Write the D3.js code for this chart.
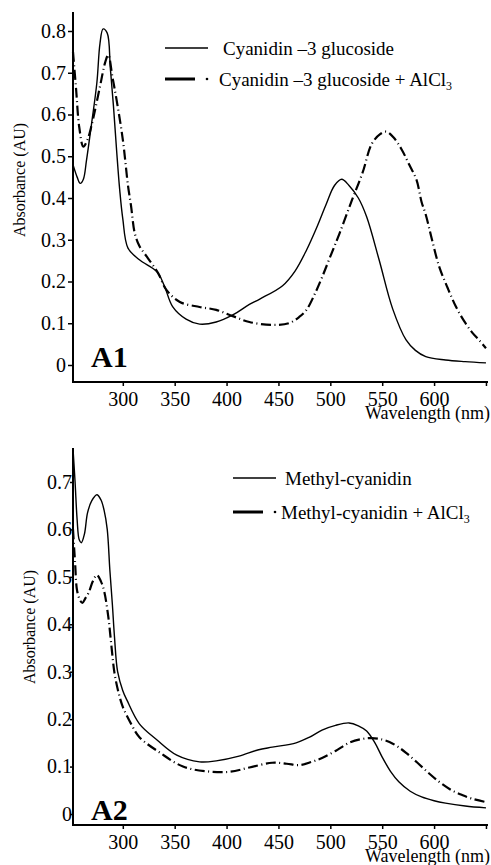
<!DOCTYPE html>
<html>
<head>
<meta charset="utf-8">
<script src="https://cdn.jsdelivr.net/npm/d3@7"></script>
<style>
  body { margin: 0; background: #fff; }
  text { font-family: 'Liberation Serif', 'Times New Roman', serif; fill: #000; }
</style>
</head>
<body>
<div id="chart"></div>
<script>
// wavelength (nm) / absorbance (AU)
let a1SolidWl = [252, 256, 259, 262, 265, 270, 275, 278, 281, 285, 288, 291, 294, 297, 300, 305, 316, 333, 340, 348, 361, 374, 390, 406, 422, 432, 454, 466, 477, 487, 496, 504, 511, 518, 527, 535, 547, 560, 573, 582, 592, 611, 630, 650]
let a1SolidAbs = [0.48, 0.45, 0.435, 0.445, 0.49, 0.58, 0.676, 0.77, 0.805, 0.795, 0.71, 0.62, 0.515, 0.42, 0.35, 0.28, 0.252, 0.223, 0.19, 0.14, 0.11, 0.098, 0.103, 0.12, 0.145, 0.158, 0.19, 0.225, 0.275, 0.33, 0.385, 0.43, 0.445, 0.43, 0.4, 0.355, 0.252, 0.135, 0.06, 0.035, 0.02, 0.012, 0.008, 0.005]

let a1DashWl = [252, 255, 258, 262, 266, 270, 278, 283, 286, 290, 294, 300, 305, 308, 311.5, 316, 323, 334, 342, 355, 374, 390, 406, 422, 444, 460, 470, 477, 485, 492, 500, 509, 521, 531, 540, 548, 554, 561, 569, 576, 583, 588, 592, 598, 605, 613, 621, 629, 637, 644, 650]
let a1DashAbs = [0.75, 0.66, 0.57, 0.523, 0.54, 0.575, 0.667, 0.725, 0.743, 0.69, 0.635, 0.54, 0.43, 0.38, 0.316, 0.285, 0.26, 0.22, 0.18, 0.151, 0.139, 0.132, 0.117, 0.103, 0.096, 0.1, 0.115, 0.132, 0.17, 0.21, 0.26, 0.316, 0.396, 0.46, 0.53, 0.553, 0.559, 0.545, 0.515, 0.48, 0.444, 0.39, 0.36, 0.3, 0.235, 0.185, 0.14, 0.105, 0.077, 0.058, 0.04]

let a2SolidWl = [252, 254, 256, 258, 260, 263, 266, 270, 275, 279, 282, 285, 287.5, 290, 292, 295, 300, 304, 316, 333, 352, 374, 390, 412, 430, 444, 467, 480, 492, 505, 518, 527, 535, 543, 550, 558, 566, 577, 588, 600, 611, 630, 650]
let a2SolidAbs = [0.77, 0.7, 0.62, 0.578, 0.572, 0.59, 0.635, 0.66, 0.673, 0.662, 0.64, 0.6, 0.515, 0.44, 0.373, 0.3, 0.26, 0.24, 0.19, 0.156, 0.124, 0.11, 0.112, 0.122, 0.135, 0.141, 0.15, 0.162, 0.177, 0.187, 0.192, 0.186, 0.175, 0.15, 0.12, 0.09, 0.068, 0.048, 0.036, 0.028, 0.023, 0.017, 0.013]

let a2DashWl = [252, 254, 256, 259, 261, 264, 267, 271, 275, 279, 282, 286, 289, 292, 296, 300, 308, 316, 336, 358, 381, 403, 422, 444, 458, 470, 482, 492, 505, 518, 530, 540, 550, 557, 565, 573, 584, 595, 606, 617, 627, 637, 650]
let a2DashAbs = [0.6, 0.53, 0.47, 0.45, 0.445, 0.455, 0.466, 0.49, 0.504, 0.49, 0.47, 0.416, 0.355, 0.297, 0.255, 0.226, 0.19, 0.162, 0.129, 0.1, 0.09, 0.089, 0.098, 0.108, 0.106, 0.103, 0.11, 0.118, 0.133, 0.15, 0.158, 0.16, 0.157, 0.152, 0.142, 0.129, 0.108, 0.086, 0.066, 0.05, 0.04, 0.032, 0.025]

let xTicks = [300, 350, 400, 450, 500, 550, 600, 650]
let a1YTicks = [0, 0.1, 0.2, 0.3, 0.4, 0.5, 0.6, 0.7, 0.8]
let a2YTicks = [0, 0.1, 0.2, 0.3, 0.4, 0.5, 0.6, 0.7]

let width = 491
let height = 865

let svg = d3.select('#chart').append('svg')
  .attr('width', width)
  .attr('height', height)

let zip = (xs, ys) => xs.map((x, i) => [x, ys[i]])

function panel(opts) {
  let x = d3.scaleLinear().domain([252, 651]).range([73, 487])
  let y = d3.scaleLinear().domain([0, opts.yMax]).range([opts.y0, opts.yTop])

  let g = svg.append('g')

  let line = d3.line()
    .x(d => x(d[0]))
    .y(d => y(d[1]))
    .curve(d3.curveCatmullRom.alpha(0.5))

  g.append('path')
    .datum(zip(opts.solid[0], opts.solid[1]))
    .attr('d', line)
    .attr('fill', 'none')
    .attr('stroke', '#000')
    .attr('stroke-width', 1.4)

  g.append('path')
    .datum(zip(opts.dash[0], opts.dash[1]))
    .attr('d', line)
    .attr('fill', 'none')
    .attr('stroke', '#000')
    .attr('stroke-width', 2.2)
    .attr('stroke-dasharray', '10,3.5,1,3.5')

  // y axis
  let yAxis = g.append('g')
    .attr('transform', 'translate(73,0)')
    .call(d3.axisLeft(y)
      .tickValues(opts.yTicks)
      .tickFormat(d => d === 0 ? '0' : d3.format('.1f')(d))
      .tickSize(opts.yTickSize)
      .tickPadding(opts.yPad))
  yAxis.select('.domain').remove()
  yAxis.attr('font-family', null)
  yAxis.selectAll('text').attr('font-size', 20)
  yAxis.selectAll('line').attr('stroke-width', 1.5)

  // x axis
  let xAxis = g.append('g')
    .attr('transform', `translate(0,${opts.axisY})`)
    .call(d3.axisBottom(x)
      .tickValues(xTicks)
      .tickFormat(d => d === 650 ? '' : d)
      .tickSize(4)
      .tickPadding(6))
  xAxis.select('.domain').remove()
  xAxis.attr('font-family', null)
  xAxis.selectAll('text').attr('font-size', 20)
  xAxis.selectAll('line').attr('stroke-width', 1.5)

  g.append('line')
    .attr('x1', 73).attr('x2', 73)
    .attr('y1', opts.axisTop).attr('y2', opts.axisY + 1)
    .attr('stroke', '#000').attr('stroke-width', 2)
  g.append('line')
    .attr('x1', 72).attr('x2', 488)
    .attr('y1', opts.axisY).attr('y2', opts.axisY)
    .attr('stroke', '#000').attr('stroke-width', 2)

  g.append('text')
    .text('Wavelength (nm)')
    .attr('x', 490)
    .attr('y', opts.axisY + 37)
    .attr('text-anchor', 'end')
    .attr('font-size', 18)

  g.append('text')
    .text('Absorbance (AU)')
    .attr('transform', `translate(${opts.labelX},${opts.labelY}) rotate(-90)`)
    .attr('text-anchor', 'middle')
    .attr('dominant-baseline', 'middle')
    .attr('font-size', 16)

  g.append('text')
    .text(opts.tag)
    .attr('x', 91)
    .attr('y', opts.tagY)
    .attr('font-size', 30)
    .attr('font-weight', 'bold')

  // legend
  let lg = g.append('g')
  lg.append('line')
    .attr('x1', opts.legX).attr('x2', opts.legX + 43)
    .attr('y1', opts.legY).attr('y2', opts.legY)
    .attr('stroke', '#000').attr('stroke-width', 1.4)
  lg.append('line')
    .attr('x1', opts.legX).attr('x2', opts.legX + 30)
    .attr('y1', opts.legY + opts.legGap).attr('y2', opts.legY + opts.legGap)
    .attr('stroke', '#000').attr('stroke-width', 3)
  lg.append('circle')
    .attr('cx', opts.legX + 42).attr('cy', opts.legY + opts.legGap)
    .attr('r', 1.3)
  lg.append('text')
    .text(opts.names[0])
    .attr('x', opts.textX)
    .attr('y', opts.legY + 7)
    .attr('font-size', 19)
  let t2 = lg.append('text')
    .attr('x', opts.textX - 4)
    .attr('y', opts.legY + opts.legGap + 7)
    .attr('font-size', 19)
  t2.append('tspan').text(opts.names[1])
  t2.append('tspan').text('3').attr('font-size', 12).attr('dy', 4)
}

panel({
  solid: [a1SolidWl, a1SolidAbs],
  dash: [a1DashWl, a1DashAbs],
  yMax: 0.8, y0: 365, yTop: 31,
  yTicks: a1YTicks, yTickSize: 5, yPad: 2,
  axisY: 382, axisTop: 12,
  labelX: 21, labelY: 180,
  tag: 'A1', tagY: 367,
  legX: 165, legY: 48, legGap: 31, textX: 223,
  names: ['Cyanidin \u20133 glucoside', 'Cyanidin \u20133 glucoside + AlCl']
})

panel({
  solid: [a2SolidWl, a2SolidAbs],
  dash: [a2DashWl, a2DashAbs],
  yMax: 0.7, y0: 814, yTop: 482,
  yTicks: a2YTicks, yTickSize: 3, yPad: -2,
  axisY: 825, axisTop: 448,
  labelX: 31, labelY: 627,
  tag: 'A2', tagY: 820,
  legX: 233, legY: 478, legGap: 34, textX: 285,
  names: ['Methyl-cyanidin', 'Methyl-cyanidin + AlCl']
})
</script>
</body>
</html>
